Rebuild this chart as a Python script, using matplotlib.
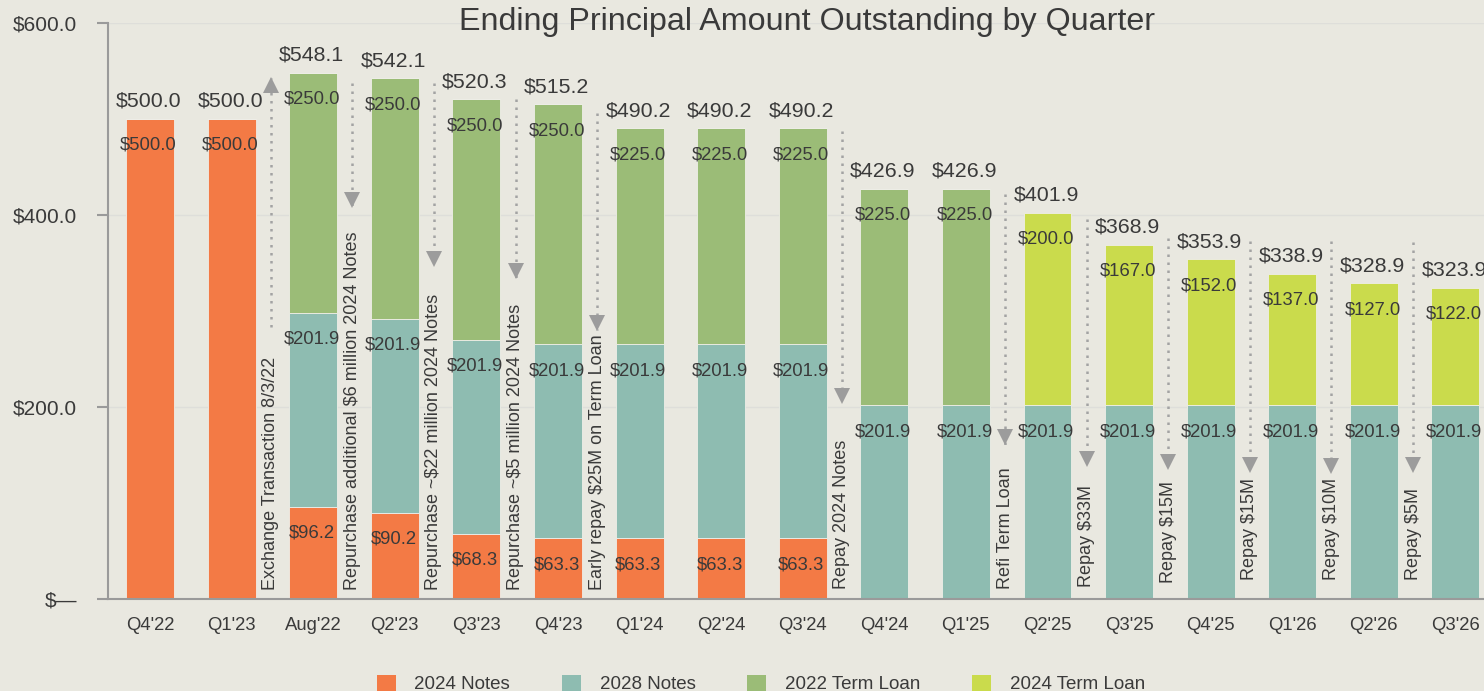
import matplotlib
matplotlib.use('Agg')
import matplotlib.pyplot as plt
from matplotlib.patches import Patch
from matplotlib.transforms import ScaledTranslation
import numpy as np

plt.rcParams['font.family'] = ['Liberation Sans', 'DejaVu Sans']

# ---------------- data ----------------
quarters = ["Q4'22", "Q1'23", "Aug'22", "Q2'23", "Q3'23", "Q4'23", "Q1'24", "Q2'24",
            "Q3'24", "Q4'24", "Q1'25", "Q2'25", "Q3'25", "Q4'25", "Q1'26", "Q2'26", "Q3'26"]
notes_2024 = [500.0, 500.0, 96.2, 90.2, 68.3, 63.3, 63.3, 63.3, 63.3, 0, 0, 0, 0, 0, 0, 0, 0]
notes_2028 = [0, 0, 201.9, 201.9, 201.9, 201.9, 201.9, 201.9, 201.9, 201.9, 201.9, 201.9,
              201.9, 201.9, 201.9, 201.9, 201.9]
term_2022 = [0, 0, 250.0, 250.0, 250.0, 250.0, 225.0, 225.0, 225.0, 225.0, 225.0, 0, 0, 0, 0, 0, 0]
term_2024 = [0, 0, 0, 0, 0, 0, 0, 0, 0, 0, 0, 200.0, 167.0, 152.0, 137.0, 127.0, 122.0]
totals = [500.0, 500.0, 548.1, 542.1, 520.3, 515.2, 490.2, 490.2, 490.2, 426.9, 426.9,
          401.9, 368.9, 353.9, 338.9, 328.9, 323.9]
series_names = ["2024 Notes", "2028 Notes", "2022 Term Loan", "2024 Term Loan"]
y_ticks = [0, 200, 400, 600]
y_tick_labels = ["$\u2014", "$200.0", "$400.0", "$600.0"]

# annotations: text, gap after bar index, dotted-line start value, arrow-tip value
ann_text = ["Exchange Transaction 8/3/22", "Repurchase additional $6 million 2024 Notes",
            "Repurchase ~$22 million 2024 Notes", "Repurchase ~$5 million 2024 Notes",
            "Early repay $25M on Term Loan", "Repay 2024 Notes", "Refi Term Loan",
            "Repay $33M", "Repay $15M", "Repay $15M", "Repay $10M", "Repay $5M"]
ann_after = [1, 2, 3, 4, 5, 8, 10, 11, 12, 13, 14, 15]
ann_from = [283, 537, 537, 521, 506, 487, 422, 396, 376, 373, 373, 372]
ann_to = [543, 408, 346, 334, 280, 204, 161, 138, 135, 132, 131, 132]
ann_text_base = [10, 10, 10, 10, 10, 11, 10.5, 12.5, 17, 20, 20, 20]

# ---------------- style ----------------
BG = '#E9E8E0'
TXT = '#3A3A3A'
colors = ['#F37A45', '#8EBCB1', '#9BBC77', '#CADB4C']
GRAY = '#9C9C9C'

fig = plt.figure(figsize=(14.84, 6.91), dpi=100, facecolor=BG)
ax = fig.add_axes([0.073, 0.1327, 0.927, 0.8344])
ax.set_facecolor(BG)

x = np.arange(len(quarters))
width = 0.588
bottom = np.zeros(len(quarters))
for vals, col in zip([notes_2024, notes_2028, term_2022, term_2024], colors):
    v = np.array(vals, dtype=float)
    ax.bar(x, v, width, bottom=bottom, color=col, edgecolor='#EFEEE8', linewidth=0.6, zorder=2)
    for xi, b, val in zip(x, bottom, v):
        if val > 0:
            ax.annotate(f"${val:,.1f}", (xi, b + val), xytext=(-1, -22.2), textcoords='offset points',
                        ha='center', va='baseline', fontsize=13.3, color=TXT, zorder=4)
    bottom += v

for xi, t in zip(x, totals):
    ax.annotate(f"${t:,.1f}", (xi, t), xytext=(-1, 8.8), textcoords='offset points',
                ha='center', va='baseline', fontsize=15.4, color=TXT, zorder=4)

# annotation arrows
for txt, gi, y0, y1, tb in zip(ann_text, ann_after, ann_from, ann_to, ann_text_base):
    xa = gi + 0.48
    up = y1 > y0
    ax.plot([xa, xa], [y0, y1], color='#A3A3A3', lw=1.8, linestyle=(0, (1, 2.2)),
            dash_capstyle='butt', zorder=3)
    off = -7.5 / 100 if up else 7.5 / 100
    tr = ax.transData + ScaledTranslation(0, off, fig.dpi_scale_trans)
    ax.plot([xa], [y1], marker='^' if up else 'v', markersize=11, color=GRAY,
            markeredgewidth=0, transform=tr, zorder=3)
    ax.text(xa, tb, txt, rotation=90, ha='center', va='bottom', fontsize=13,
            color=TXT, zorder=4)

ax.set_xlim(-0.511, 16.35)
ax.set_ylim(0, 600)
ax.set_xticks(x)
ax.set_xticklabels(quarters, fontsize=13.3, color=TXT)
ax.set_yticks(y_ticks)
ax.set_yticklabels(y_tick_labels, fontsize=15, color=TXT)
ax.tick_params(axis='x', length=0, pad=12.6)
ax.tick_params(axis='y', length=7.6, width=1.5, color='#9A9A9A', pad=15)
for s in ['top', 'right']:
    ax.spines[s].set_visible(False)
for s in ['left', 'bottom']:
    ax.spines[s].set_color('#9A9A9A')
    ax.spines[s].set_linewidth(1.5)
ax.spines['left'].set_zorder(5)
ax.spines['bottom'].set_zorder(5)
ax.set_axisbelow(True)
ax.yaxis.grid(True, color='#DEDEDA', linewidth=1.0, zorder=0)

fig.text(0.5438, 1 - 30 / 691, "Ending Principal Amount Outstanding by Quarter",
         ha='center', va='baseline', fontsize=23.2, color=TXT)

handles = [Patch(facecolor=c, edgecolor='none') for c in colors]
fig.legend(handles, series_names, loc='center', bbox_to_anchor=(761 / 1484, 1 - 684 / 691),
           ncol=4, frameon=False, fontsize=13.5, handlelength=1.0, handleheight=1.0,
           handletextpad=1.0, columnspacing=2.77, borderpad=0, labelcolor=TXT)

fig.savefig('out.png', dpi=100, facecolor=BG)
